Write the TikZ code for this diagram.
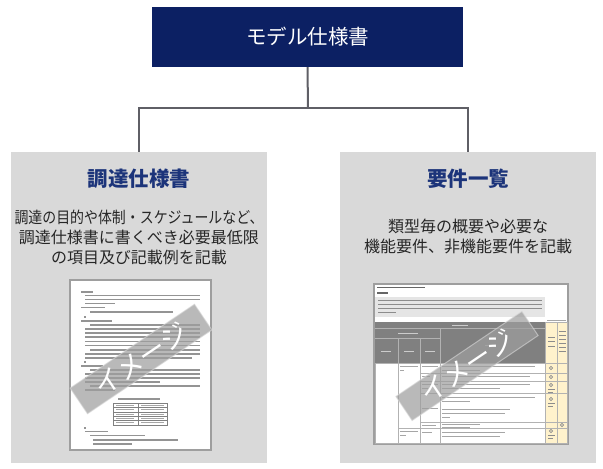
\documentclass[tikz,border=0pt]{standalone}
\usepackage{fontspec}
\setmainfont{Noto Sans CJK JP}
\definecolor{navy}{RGB}{12,32,99}
\definecolor{titleblue}{RGB}{28,52,122}
\definecolor{panelgray}{RGB}{217,217,217}
\definecolor{linkgray}{RGB}{95,95,102}
\definecolor{yel}{RGB}{255,242,204}
\begin{document}
\begin{tikzpicture}[x=1pt,y=-1pt,
  topbox/.style={fill=navy,text=white,minimum width=311pt,minimum height=60pt,inner sep=0pt,font=\fontsize{20.5}{24}\selectfont},
  panel/.style={fill=panelgray,minimum width=256pt,minimum height=311pt,inner sep=0pt},
  ptitle/.style={text=titleblue,font=\fontsize{20.5}{24}\selectfont\bfseries},
  pdesc/.style={text=black!85,align=center,font=\fontsize{16}{20}\selectfont},
  page/.style={fill=white,draw=black!38,line width=1.6pt,inner sep=0pt},
  txt/.style={draw=black!42,line width=1.4pt},
  smalltxt/.style={draw=black!35,line width=1pt},
  grid/.style={draw=black!30,line width=0.5pt},
  band/.style={fill=black!38,fill opacity=0.72,draw=white!85!black,draw opacity=0.6,line width=1pt,
    text=white,text opacity=1,inner sep=0pt,font=\fontsize{27}{27}\selectfont},
  link/.style={draw=linkgray,line width=2pt}]
\useasboundingbox (0,0) rectangle (603,469);

% main nodes
\node[topbox] (top) at (307.5,37) {モデル仕様書};
\node[panel] (lbox) at (139,307.5) {};
\node[panel] (rbox) at (468,307.5) {};
\coordinate (j) at (308,108);
\draw[link] (top.south) -- (j);
\draw[link] (lbox.north) |- (j) -| (rbox.north);

\node[ptitle] (ltitle) at (139,179) {調達仕様書};
\node[pdesc] (ldesc) at (139,237) {\scalebox{0.87}[1]{調達の目的や体制・スケジュールなど、}\\調達仕様書に書くべき必要最低限\\の項目及び記載例を記載};
\node[ptitle] (rtitle) at (468,179) {要件一覧};
\node[pdesc] (rdesc) at (468,237) {類型毎の概要や必要な\\機能要件、非機能要件を記載};

% ---------- left thumbnail ----------
\node[page,minimum width=141pt,minimum height=170pt] (lpage) at (140.5,365) {};
\foreach \a/\b/\y in {81/93/292, 85/200/295.5, 85/200/299.5, 85/115/303.5, 81/105/307.5, 90/173/312,
  84/86/317, 81/112/321, 90/200/325, 85/200/329, 85/200/333, 85/200/337, 85/200/341.5, 85/200/345.5,
  90/200/350, 85/200/354, 85/192/358, 84/86/362, 81/103/366, 90/200/370, 85/200/374, 85/200/378,
  85/160/382, 90/200/386, 85/115/390, 118/160/399, 84/86/428, 85/108/431.5, 90/145/435.5, 93/178/440, 93/132/444}
  \draw[txt] (\a,\y) -- (\b,\y);
% small table
\draw[grid,draw=black!50] (113,403) rectangle (167,425);
\foreach \y in {407.5,412,416,420.5} \draw[grid,draw=black!50] (113,\y) -- (167,\y);
\draw[grid,draw=black!50] (138,403) -- (138,425);
\foreach \y in {405.3,409.8,414,418.3,422.8} {
  \draw[smalltxt] (116,\y) -- (134,\y);
  \draw[smalltxt] (141,\y) -- (164,\y);
}
\node[band,minimum width=150pt,minimum height=31pt,rotate=34] (lband) at (141,359) {イメージ};

% ---------- right thumbnail ----------
\node[page,minimum width=194pt,minimum height=160pt] (rpage) at (471,364) {};
\draw[txt,draw=black!60,line width=1.6pt] (377,287.5) -- (425,287.5);
\draw[txt,draw=black!60,line width=1.6pt] (377,293) -- (388,293);
\fill[black!10] (375,297) rectangle (545,317);
\foreach \a/\b/\y in {378/542/300, 378/542/304, 378/542/308, 378/396/312.5}
  \draw[smalltxt,draw=black!45] (\a,\y) -- (\b,\y);
\draw[smalltxt] (547,320) -- (566,320);
% yellow columns
\fill[yel] (545,322) rectangle (567,443);
\draw[grid] (545,322) rectangle (567,443);
\draw[grid] (557,322) -- (557,443);
\foreach \y in {363,373,381,393,422,428} \draw[grid] (545,\y) -- (567,\y);
\foreach \y in {337,341.5,346} \draw[smalltxt,draw=black!45] (548,\y) -- (555,\y);
\foreach \y in {331,335,339,343,347,351} \draw[smalltxt,draw=black!45] (559,\y) -- (566,\y);
\foreach \y in {368,377} \draw[black!45,line width=0.6pt] (551,\y) circle (1.6);
\foreach \y in {385,399,431} {
  \draw[black!45,line width=0.6pt] (551,\y) circle (1.6);
  \draw[smalltxt,draw=black!45] (548,\y+4) -- (555,\y+4);
  \draw[smalltxt,draw=black!45] (548,\y+7.5) -- (553,\y+7.5);
}
\draw[black!45,line width=0.6pt] (562,425) circle (1.6);
% dark header
\fill[black!50] (375,322) rectangle (545,363);
\draw[grid,draw=white!70!black] (375,328) -- (545,328);
\draw[grid,draw=white!70!black] (375,338) -- (440,338);
\draw[grid,draw=white!70!black] (440,328) -- (440,363);
\draw[grid,draw=white!70!black] (398,338) -- (398,363);
\draw[grid,draw=white!70!black] (420,338) -- (420,363);
\draw[smalltxt,draw=white!80!black] (452,325) -- (468,325);
\draw[smalltxt,draw=white!80!black] (398,333) -- (418,333);
\foreach \c in {386,409,430} \draw[smalltxt,draw=white!80!black] (\c-5,351) -- (\c+5,351);
\draw[smalltxt,draw=white!70!black] (485,345) -- (495,345);
% body grid
\draw[grid] (375,363) rectangle (545,443);
\foreach \x in {398,420,440} \draw[grid] (\x,363) -- (\x,443);
\foreach \y in {373,381,393,422} \draw[grid] (420,\y) -- (545,\y);
\draw[grid] (398,428) -- (545,428);
% body text
\foreach \a/\b/\y in {400/418/366, 400/404/370, 400/418/431, 400/406/435,
  422/438/366, 422/430/376, 422/438/384, 422/428/388, 422/438/408, 422/436/425, 422/432/432,
  442/535/366, 442/480/370, 442/530/376, 442/530/384, 442/500/388, 442/535/397, 442/470/401,
  442/510/409, 442/505/413, 442/450/417, 442/480/424.5, 442/470/427, 442/505/432, 442/500/436}
  \draw[smalltxt] (\a,\y) -- (\b,\y);
\node[band,minimum width=152pt,minimum height=29pt,rotate=34] (rband) at (467,366) {イメージ};
\end{tikzpicture}
\end{document}
